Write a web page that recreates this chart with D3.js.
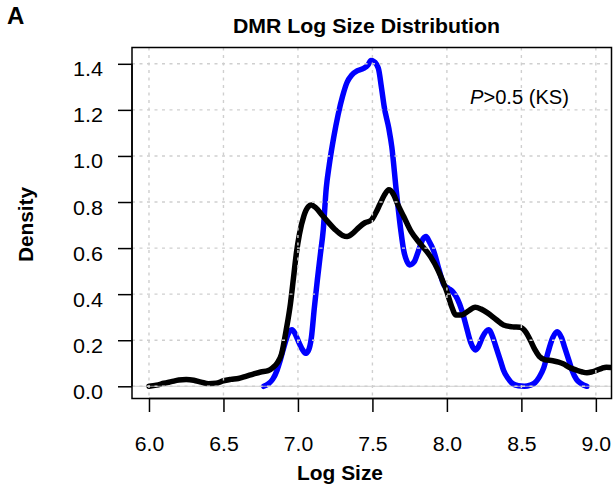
<!DOCTYPE html>
<html>
<head>
<meta charset="utf-8">
<script src="https://cdn.jsdelivr.net/npm/d3@7"></script>
<style>
  html, body { margin: 0; padding: 0; background: #fff; }
  svg { display: block; font-family: "Liberation Sans", Arial, Helvetica, sans-serif; }
</style>
</head>
<body>
<svg id="chart" width="613" height="491"></svg>
<script>
// Kernel density of log DMR size, two groups
const blueX = [6.77,6.80,6.83,6.86,6.88,6.91,6.94,6.96,6.98,7.00,7.03,7.05,7.07,7.09,7.11,7.13,7.15,7.17,7.19,7.21,7.24,7.27,7.30,7.33,7.36,7.40,7.44,7.47,7.49,7.51,7.54,7.56,7.58,7.61,7.63,7.66,7.69,7.71,7.73,7.75,7.78,7.81,7.84,7.86,7.88,7.91,7.95,7.98,8.01,8.04,8.07,8.10,8.13,8.16,8.19,8.21,8.24,8.28,8.31,8.33,8.36,8.38,8.41,8.44,8.48,8.52,8.56,8.59,8.62,8.65,8.68,8.71,8.74,8.77,8.79,8.82,8.84,8.87,8.90,8.94];
const blueY = [0.0,0.01,0.03,0.07,0.11,0.18,0.235,0.245,0.23,0.20,0.16,0.143,0.155,0.21,0.34,0.46,0.57,0.68,0.86,0.96,1.08,1.18,1.26,1.32,1.35,1.37,1.38,1.395,1.414,1.41,1.38,1.30,1.21,1.12,1.04,0.85,0.68,0.59,0.545,0.527,0.54,0.59,0.64,0.65,0.63,0.59,0.50,0.44,0.425,0.41,0.38,0.33,0.26,0.19,0.158,0.17,0.215,0.245,0.21,0.17,0.11,0.07,0.035,0.012,0.002,0.0,0.005,0.015,0.04,0.08,0.15,0.21,0.237,0.21,0.17,0.11,0.07,0.03,0.012,0.0];

const blackX = [6.00,6.05,6.10,6.15,6.20,6.25,6.30,6.35,6.40,6.45,6.50,6.55,6.60,6.65,6.70,6.75,6.80,6.83,6.86,6.89,6.92,6.95,6.97,6.99,7.01,7.04,7.07,7.09,7.12,7.16,7.20,7.25,7.30,7.33,7.37,7.41,7.45,7.49,7.52,7.55,7.58,7.61,7.64,7.67,7.71,7.76,7.82,7.89,7.94,7.97,8.00,8.03,8.06,8.10,8.14,8.19,8.23,8.27,8.33,8.38,8.44,8.49,8.53,8.56,8.59,8.62,8.66,8.71,8.75,8.78,8.82,8.87,8.91,8.94,8.97,9.00,9.04,9.07,9.10,9.13];
const blackY = [0.0,0.005,0.013,0.02,0.027,0.029,0.026,0.018,0.011,0.013,0.024,0.03,0.034,0.043,0.053,0.062,0.068,0.08,0.10,0.14,0.24,0.36,0.47,0.58,0.66,0.74,0.78,0.787,0.775,0.745,0.715,0.68,0.655,0.65,0.665,0.69,0.71,0.72,0.75,0.79,0.83,0.853,0.835,0.79,0.737,0.671,0.62,0.563,0.505,0.46,0.41,0.35,0.31,0.31,0.325,0.343,0.335,0.32,0.29,0.266,0.258,0.256,0.235,0.20,0.16,0.13,0.115,0.111,0.105,0.098,0.083,0.07,0.062,0.059,0.062,0.068,0.078,0.083,0.082,0.08];

const xTicks = [6.0,6.5,7.0,7.5,8.0,8.5,9.0];
const yTicks = [0.0,0.2,0.4,0.6,0.8,1.0,1.2,1.4];

const titleText = "DMR Log Size Distribution";
const xLabel = "Log Size";
const yLabel = "Density";
const panelLabel = "A";

// plot region
const box = { left: 132, right: 611.5, top: 47.5, bottom: 398.5 };

const x = d3.scaleLinear().domain([5.886, 9.105]).range([box.left, box.right]);
const y = d3.scaleLinear().domain([-0.053, 1.4708]).range([box.bottom, box.top]);

const svg = d3.select("#chart");

svg.append("defs").append("clipPath").attr("id", "plotclip")
  .append("rect")
  .attr("x", box.left).attr("y", box.top)
  .attr("width", box.right - box.left).attr("height", box.bottom - box.top);

const plot = svg.append("g").attr("clip-path", "url(#plotclip)");

const line = d3.line()
  .x(d => x(d[0]))
  .y(d => y(d[1]))
  .curve(d3.curveMonotoneX);

const bluePts = d3.zip(blueX, blueY);
const blackPts = d3.zip(blackX, blackY);

plot.append("path").datum(bluePts)
  .attr("d", line)
  .attr("fill", "none").attr("stroke", "#0000ff")
  .attr("stroke-width", 5.5).attr("stroke-linejoin", "round").attr("stroke-linecap", "round");

plot.append("path").datum(blackPts)
  .attr("d", line)
  .attr("fill", "none").attr("stroke", "#000")
  .attr("stroke-width", 5.5).attr("stroke-linejoin", "round").attr("stroke-linecap", "round");

// baseline at zero density
plot.append("line")
  .attr("x1", box.left).attr("x2", box.right)
  .attr("y1", y(0)).attr("y2", y(0))
  .attr("stroke", "#c4c4c4").attr("stroke-width", 0.8);

// dotted grid drawn over the curves
const grid = plot.append("g")
  .attr("stroke", "#cfcfcf").attr("stroke-width", 1.4).attr("stroke-dasharray", "3,4.5");
grid.selectAll("line.v").data(xTicks).join("line").attr("class", "v")
  .attr("x1", d => x(d)).attr("x2", d => x(d))
  .attr("y1", box.top).attr("y2", box.bottom);
grid.selectAll("line.h").data(yTicks).join("line").attr("class", "h")
  .attr("x1", box.left).attr("x2", box.right)
  .attr("y1", d => y(d)).attr("y2", d => y(d));

// box
svg.append("rect")
  .attr("x", box.left).attr("y", box.top)
  .attr("width", box.right - box.left).attr("height", box.bottom - box.top)
  .attr("fill", "none").attr("stroke", "#000").attr("stroke-width", 1.5);

const fmt = d3.format(".1f");

// x axis
const xAxis = d3.axisBottom(x).tickValues(xTicks).tickFormat(fmt).tickSize(13.5).tickPadding(8);
const gx = svg.append("g").attr("transform", `translate(0,${box.bottom})`).call(xAxis);
gx.select(".domain").attr("d", `M${x(6)},0H${x(9)}`).attr("stroke-width", 1.5);
gx.selectAll(".tick line").attr("stroke-width", 1.5);
gx.selectAll(".tick text").remove();
gx.selectAll(".tick").append("text")
  .attr("x", 0).attr("y", 52.8)
  .attr("text-anchor", "middle")
  .attr("fill", "#000")
  .attr("font-size", 19.5)
  .attr("textLength", 29.5).attr("lengthAdjust", "spacingAndGlyphs")
  .text(d => fmt(d));

// y axis
const yAxis = d3.axisLeft(y).tickValues(yTicks).tickFormat(fmt).tickSize(14);
const gy = svg.append("g").attr("transform", `translate(${box.left},0)`).call(yAxis);
gy.select(".domain").attr("d", `M0,${y(0)}V${y(1.4)}`).attr("stroke-width", 1.5);
gy.selectAll(".tick line").attr("stroke-width", 1.5);
gy.selectAll(".tick text").remove();
gy.selectAll(".tick").append("text")
  .attr("x", -29).attr("y", 12)
  .attr("text-anchor", "end")
  .attr("fill", "#000")
  .attr("font-size", 19.5)
  .attr("textLength", 30).attr("lengthAdjust", "spacingAndGlyphs")
  .text(d => fmt(d));

// titles
svg.append("text")
  .attr("x", 233).attr("y", 33)
  .attr("font-size", 19.5).attr("font-weight", "bold")
  .attr("textLength", 267).attr("lengthAdjust", "spacingAndGlyphs")
  .text(titleText);

svg.append("text")
  .attr("x", 297).attr("y", 479.5)
  .attr("font-size", 19.5).attr("font-weight", "bold")
  .attr("textLength", 86).attr("lengthAdjust", "spacingAndGlyphs")
  .text(xLabel);

svg.append("text")
  .attr("transform", "translate(33,262) rotate(-90)")
  .attr("x", 0).attr("y", 0)
  .attr("font-size", 20).attr("font-weight", "bold")
  .attr("textLength", 75).attr("lengthAdjust", "spacingAndGlyphs")
  .text(yLabel);

svg.append("text")
  .attr("x", 7).attr("y", 24.3)
  .attr("font-size", 24).attr("font-weight", "bold")
  .text(panelLabel);

// KS test annotation
const ks = svg.append("text")
  .attr("x", 470).attr("y", 104)
  .attr("font-size", 19.5)
  .attr("textLength", 99).attr("lengthAdjust", "spacingAndGlyphs");
ks.append("tspan").attr("font-style", "italic").text("P");
ks.append("tspan").text(">0.5 (KS)");
</script>
</body>
</html>
